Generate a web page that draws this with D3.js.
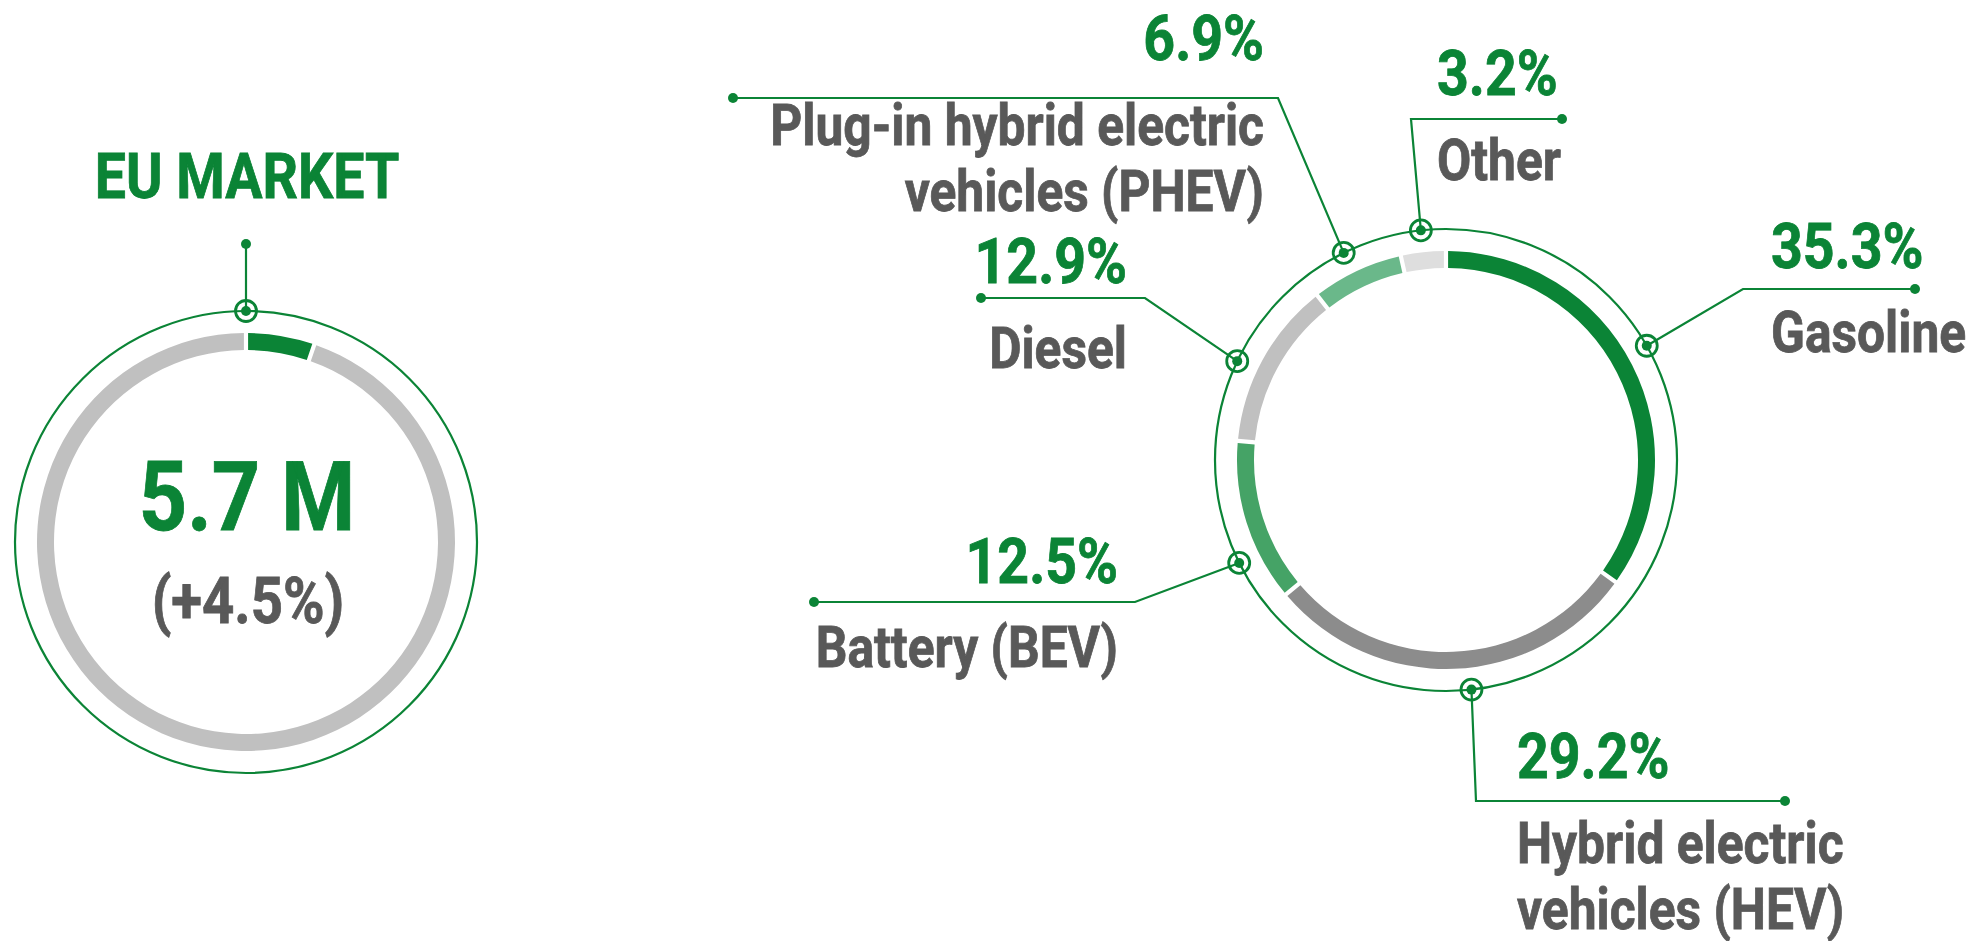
<!DOCTYPE html>
<html>
<head>
<meta charset="utf-8">
<script src="https://cdn.jsdelivr.net/npm/d3@7"></script>
<style>
  html, body { margin: 0; background: #fff; }
  text { font-family: Roboto, "Noto Sans", sans-serif; font-weight: 700; }
</style>
</head>
<body>
<div id="chart"></div>
<script>
// Canvas
const width = 1968;
const height = 941;

// EU market summary
const marketTitle = 'EU MARKET';
const marketValue = '5.7 M';
const marketChange = '(+4.5%)';
const marketShare = [5, 95];           // highlighted slice vs rest of ring

// Powertrain mix (% of registrations)
const fuelTypes = ['Gasoline', 'HEV', 'BEV', 'Diesel', 'PHEV', 'Other'];
const fuelShares = [35.3, 29.2, 12.5, 12.9, 6.9, 3.2];
const fuelLabels = [
    ['Gasoline'],
    ['Hybrid electric', 'vehicles (HEV)'],
    ['Battery (BEV)'],
    ['Diesel'],
    ['Plug-in hybrid electric', 'vehicles (PHEV)'],
    ['Other']
];

// Colours
const green = '#0b8436';
const textGray = '#595959';
const fuelColors = ['#0b8436', '#8c8c8c', '#45a366', '#c0c0c0', '#6ab88a', '#dedede'];
const marketColors = ['#0b8436', '#c0c0c0'];

// Ring geometry
const ringOuter = 209;
const ringInner = 192;
const frameRadius = 231;
const squeeze = 0.88;   // no condensed font available, so narrow the glyphs

// Callout layout for each slice (position along slice, elbow, end of line, text)
const callouts = [
    { at: 0.48, elbow: [1743, 289], end: 1915, anchor: 'start', tx: 1771, pctY: 268, lblY: 352 },
    { at: 0.46, elbow: [1476, 801], end: 1785, anchor: 'start', tx: 1517, pctY: 778, lblY: 863 },
    { at: 0.30, elbow: [1135, 602], end: 814,  anchor: 'end',   tx: 1118, pctY: 583, lblY: 667 },
    { at: 0.43, elbow: [1145, 298], end: 981,  anchor: 'end',   tx: 1127, pctY: 283, lblY: 368 },
    { at: 0.46, elbow: [1278, 98],  end: 733,  anchor: 'end',   tx: 1264, pctY: 60,  lblY: 145 },
    { at: 0.50, elbow: [1411, 119], end: 1562, anchor: 'start', tx: 1437, pctY: 95,  lblY: 180 }
];
const lineHeight = 66;

const svg = d3.select('#chart')
    .append('svg')
    .attr('width', width)
    .attr('height', height);

const pie = d3.pie().sort(null).value(d => d).padAngle(0.021);
const arc = d3.arc().innerRadius(ringInner).outerRadius(ringOuter).padRadius(200);

// text helper (thin stroke keeps the squeezed glyphs as heavy as the original)
function label(g, x, y, str, size, color, anchor) {
    return g.append('text')
        .attr('transform', `translate(${x},${y}) scale(${squeeze},1)`)
        .attr('text-anchor', anchor)
        .attr('font-size', size)
        .attr('fill', color)
        .attr('stroke', color)
        .attr('stroke-width', 0.8)
        .text(str);
}

function marker(g, x, y) {
    g.append('circle').attr('cx', x).attr('cy', y).attr('r', 10.5)
        .attr('fill', 'none').attr('stroke', green).attr('stroke-width', 2.8);
    g.append('circle').attr('cx', x).attr('cy', y).attr('r', 5).attr('fill', green);
}

// ---- Left: EU market ring ----
const left = svg.append('g').attr('transform', 'translate(246,542)');

left.append('circle')
    .attr('r', frameRadius)
    .attr('fill', 'none')
    .attr('stroke', green)
    .attr('stroke-width', 2.2);

left.selectAll('path.seg')
    .data(pie(marketShare))
    .enter()
    .append('path')
    .attr('class', 'seg')
    .attr('d', arc)
    .attr('fill', (d, i) => marketColors[i]);

left.append('line')
    .attr('x1', 0).attr('y1', -frameRadius)
    .attr('x2', 0).attr('y2', -298)
    .attr('stroke', green).attr('stroke-width', 2.2);
left.append('circle').attr('cx', 0).attr('cy', -298).attr('r', 5).attr('fill', green);
marker(left, 0, -frameRadius);

label(svg, 247, 198, marketTitle, 63, green, 'middle');
label(svg, 247, 530, marketValue, 96, green, 'middle');
label(svg, 248, 623, marketChange, 64, textGray, 'middle');

// ---- Right: powertrain ring ----
const cx = 1446, cy = 460;
const right = svg.append('g').attr('transform', `translate(${cx},${cy})`);

right.append('circle')
    .attr('r', frameRadius)
    .attr('fill', 'none')
    .attr('stroke', green)
    .attr('stroke-width', 2.2);

const slices = pie(fuelShares);

right.selectAll('path.seg')
    .data(slices)
    .enter()
    .append('path')
    .attr('class', 'seg')
    .attr('d', arc)
    .attr('fill', (d, i) => fuelColors[i]);

// callouts
slices.forEach((s, i) => {
    const c = callouts[i];
    const a = s.startAngle + c.at * (s.endAngle - s.startAngle);
    const mx = cx + frameRadius * Math.sin(a);
    const my = cy - frameRadius * Math.cos(a);

    svg.append('path')
        .attr('d', `M${mx},${my}L${c.elbow[0]},${c.elbow[1]}L${c.end},${c.elbow[1]}`)
        .attr('fill', 'none')
        .attr('stroke', green)
        .attr('stroke-width', 2.2);
    svg.append('circle').attr('cx', c.end).attr('cy', c.elbow[1]).attr('r', 5).attr('fill', green);
    marker(svg, mx, my);

    label(svg, c.tx, c.pctY, d3.format('.1f')(fuelShares[i]) + '%', 63, green, c.anchor);
    fuelLabels[i].forEach((line, j) => {
        label(svg, c.tx, c.lblY + j * lineHeight, line, 56.5, textGray, c.anchor);
    });
});
</script>
</body>
</html>
